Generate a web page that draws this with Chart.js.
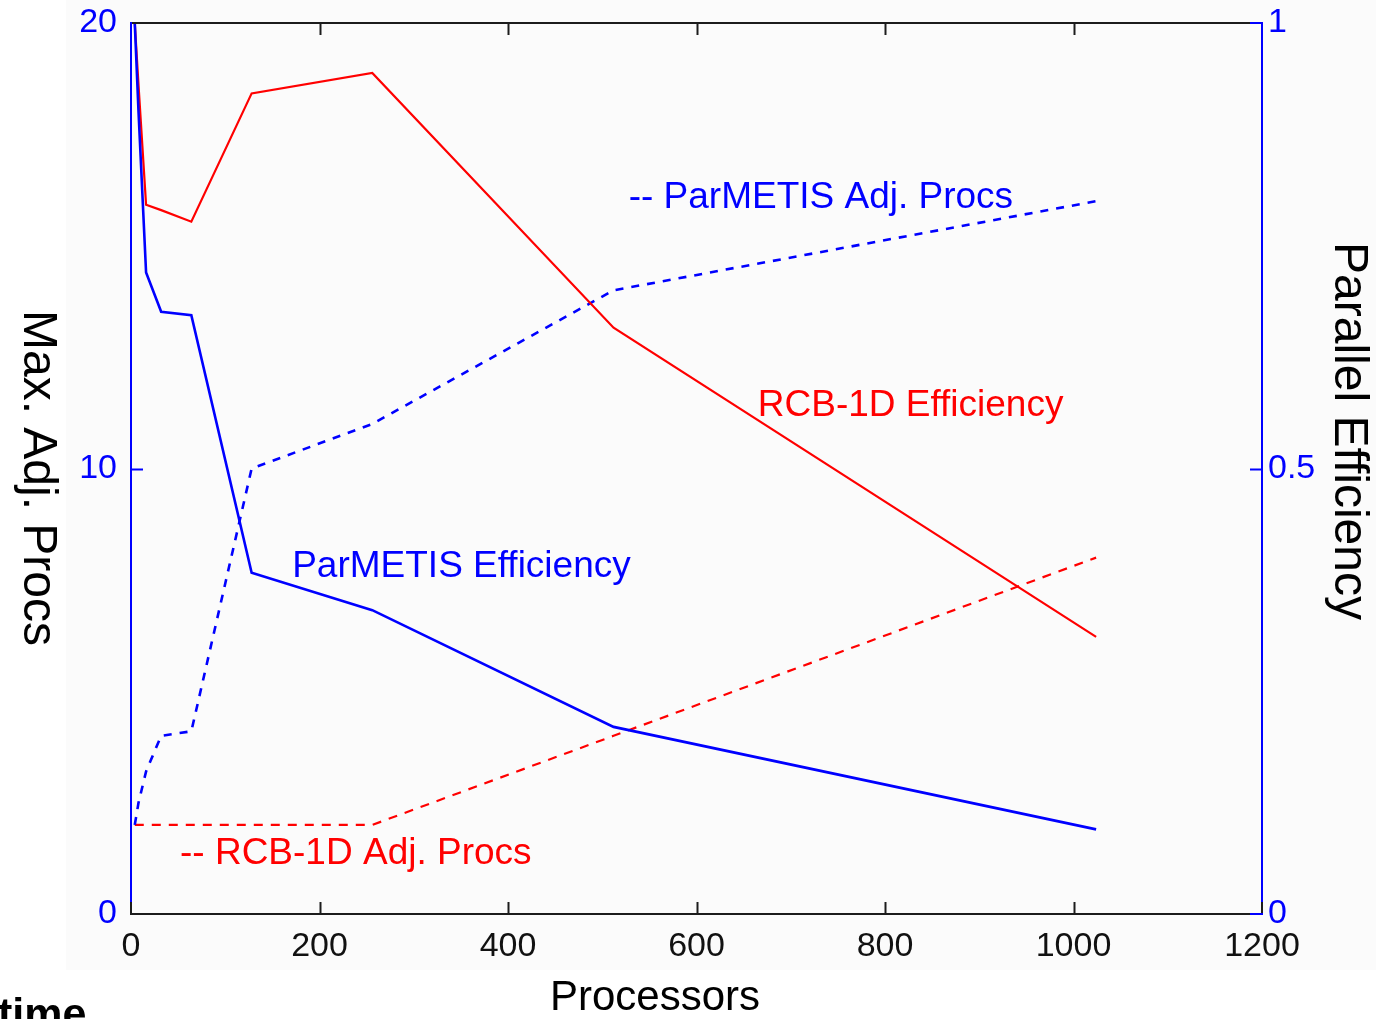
<!DOCTYPE html>
<html>
<head>
<meta charset="utf-8">
<title>Processors - adjacency and efficiency</title>
<script src="https://cdn.jsdelivr.net/npm/chart.js@4.4.1/dist/chart.umd.min.js"></script>
<style>
  html, body { margin: 0; padding: 0; background: #fff; }
  #wrap { width: 1376px; height: 1019px; position: relative; overflow: hidden; }
</style>
</head>
<body>
<div id="wrap"><canvas id="plot" width="1376" height="1019"></canvas></div>
<script>
// processor counts and the four measured curves
var processors  = [4, 8, 16, 32, 64, 128, 256, 512, 1024];
var parmetisAdj = [2, 2.5, 3.2, 4.0, 4.1, 10, 11, 14, 16];
var rcbAdj      = [2, 2, 2, 2, 2, 2, 2, 4, 8];
var parmetisEff = [1.0, 0.90, 0.72, 0.676, 0.672, 0.383, 0.341, 0.21, 0.095];
var rcbEff      = [1.0, 0.93, 0.796, 0.790, 0.777, 0.921, 0.944, 0.658, 0.311];

var xTicks     = [0, 200, 400, 600, 800, 1000, 1200];
var leftTicks  = [0, 10, 20];
var rightTicks = [0, 0.5, 1];

var BLUE = '#0000ff';
var RED  = '#ff0000';
var INK  = '#1c1c1c';
var SANS = "'Liberation Sans', Arial, sans-serif";
var TICKFONT = { family: "'Liberation Sans Narrow', 'Liberation Sans', Arial, sans-serif", size: 34 };

// in-plot labels, placed in (processors, efficiency) units
var notes = [
  { text: '-- ParMETIS Adj. Procs', color: BLUE, x: 528, eff: 0.792 },
  { text: 'RCB-1D Efficiency',      color: RED,  x: 665, eff: 0.559 },
  { text: 'ParMETIS Efficiency',    color: BLUE, x: 171, eff: 0.378 },
  { text: '-- RCB-1D Adj. Procs',   color: RED,  x: 52,  eff: 0.056 }
];

function pts(ys) {
  return processors.map(function (p, i) { return { x: p, y: ys[i] }; });
}

function fixTicks(list) {
  return function (scale) {
    scale.ticks = list.map(function (v) { return { value: v }; });
  };
}

// fixed box size, and no extra room reserved for overhanging labels
function fixSize(w, h) {
  return function (s) {
    if (w) s.width = w;
    if (h) s.height = h;
    s.paddingTop = 0; s.paddingBottom = 0;
    s.paddingLeft = 0; s.paddingRight = 0;
  };
}

function seg(c, x1, y1, x2, y2) {
  c.beginPath(); c.moveTo(x1, y1); c.lineTo(x2, y2); c.stroke();
}

var frame = {
  id: 'frame',
  beforeDraw: function (chart) {
    var c = chart.ctx;
    c.save();
    c.fillStyle = '#ffffff';
    c.fillRect(0, 0, chart.width, chart.height);
    c.fillStyle = '#fbfbfb';
    c.fillRect(66, 0, chart.width - 66, 970);
    c.restore();
  },
  afterDraw: function (chart) {
    var a = chart.chartArea, c = chart.ctx;
    var xs = chart.scales.x, yl = chart.scales.y, yr = chart.scales.y1;
    var t = 12;
    c.save();
    c.lineWidth = 2;
    c.lineCap = 'butt';

    // black parts of the box plus x ticks (inward, top and bottom)
    c.strokeStyle = INK;
    seg(c, a.left, a.top, a.right - t, a.top);
    seg(c, a.left, a.bottom, a.right - t, a.bottom);
    seg(c, a.left, a.bottom - t, a.left, a.bottom + 1);
    seg(c, a.right, a.bottom - t, a.right, a.bottom + 1);
    xTicks.forEach(function (v) {
      if (v <= xs.min || v >= xs.max) return;
      var px = Math.round(xs.getPixelForValue(v)) + 0.5;
      seg(c, px, a.top, px, a.top + t);
      seg(c, px, a.bottom, px, a.bottom - t);
    });

    // blue y axes
    c.strokeStyle = BLUE;
    seg(c, a.left, a.top - 1, a.left, a.bottom - t);
    seg(c, a.right, a.top - 1, a.right, a.bottom - t);
    seg(c, a.right - t, a.top, a.right + 1, a.top);
    seg(c, a.right - t, a.bottom, a.right + 1, a.bottom);
    leftTicks.forEach(function (v) {
      if (v <= yl.min || v >= yl.max) return;
      var py = Math.round(yl.getPixelForValue(v)) + 0.5;
      seg(c, a.left, py, a.left + t, py);
    });
    rightTicks.forEach(function (v) {
      if (v <= yr.min || v >= yr.max) return;
      var py = Math.round(yr.getPixelForValue(v)) + 0.5;
      seg(c, a.right - t, py, a.right, py);
    });

    // axis titles
    c.fillStyle = '#000';
    c.textAlign = 'center';
    c.textBaseline = 'middle';
    c.font = '42px ' + SANS;
    c.fillText('Processors', 655, 998);

    c.font = '48px ' + SANS;
    c.save();
    c.translate(37, 478);
    c.rotate(Math.PI / 2);
    c.fillText('Max. Adj. Procs', 0, 0);
    c.restore();
    c.save();
    c.translate(1348, 431);
    c.rotate(Math.PI / 2);
    c.fillText('Parallel Efficiency', 0, 0);
    c.restore();

    // in-plot labels
    c.textAlign = 'left';
    c.textBaseline = 'alphabetic';
    c.font = '37px ' + SANS;
    notes.forEach(function (n) {
      c.fillStyle = n.color;
      c.fillText(n.text, xs.getPixelForValue(n.x), yr.getPixelForValue(n.eff));
    });

    // caption cut by the lower edge
    c.fillStyle = '#000';
    c.font = 'bold 43px ' + SANS;
    c.fillText('time', -2, 1028);
    c.restore();
  }
};

var ctx = document.getElementById('plot').getContext('2d');
new Chart(ctx, {
  type: 'line',
  data: {
    datasets: [
      { label: 'ParMETIS Efficiency', data: pts(parmetisEff), yAxisID: 'y1',
        borderColor: BLUE, borderWidth: 2.6, order: 0 },
      { label: 'RCB-1D Efficiency', data: pts(rcbEff), yAxisID: 'y1',
        borderColor: RED, borderWidth: 2.2, order: 1 },
      { label: 'ParMETIS Adj. Procs', data: pts(parmetisAdj), yAxisID: 'y',
        borderColor: BLUE, borderWidth: 2.6, borderDash: [8, 8], order: 2 },
      { label: 'RCB-1D Adj. Procs', data: pts(rcbAdj), yAxisID: 'y',
        borderColor: RED, borderWidth: 2.2, borderDash: [9, 8], order: 3 }
    ]
  },
  options: {
    responsive: false,
    animation: false,
    events: [],
    layout: { padding: { top: 23, left: 0, right: 0, bottom: 0 } },
    elements: {
      point: { radius: 0 },
      line: { tension: 0, fill: false, borderCapStyle: 'butt' }
    },
    datasets: { line: { clip: false } },
    plugins: { legend: { display: false }, tooltip: { enabled: false } },
    scales: {
      x: {
        type: 'linear', min: 0, max: 1200,
        afterBuildTicks: fixTicks(xTicks),
        afterFit: fixSize(0, 105),
        grid: { display: false, drawTicks: false },
        border: { display: false },
        ticks: { color: '#111', font: TICKFONT, padding: 12, maxRotation: 0, autoSkip: false,
                 callback: function (v) { return String(v); } }
      },
      y: {
        type: 'linear', position: 'left', min: 0, max: 20,
        afterBuildTicks: fixTicks(leftTicks),
        afterFit: fixSize(131, 0),
        grid: { display: false, drawTicks: false },
        border: { display: false },
        ticks: { color: BLUE, font: TICKFONT, padding: 14,
                 callback: function (v) { return String(v); } }
      },
      y1: {
        type: 'linear', position: 'right', min: 0, max: 1,
        afterBuildTicks: fixTicks(rightTicks),
        afterFit: fixSize(114, 0),
        grid: { display: false, drawTicks: false },
        border: { display: false },
        ticks: { color: BLUE, font: TICKFONT, padding: 6,
                 callback: function (v) { return String(v); } }
      }
    }
  },
  plugins: [frame]
});
</script>
</body>
</html>
